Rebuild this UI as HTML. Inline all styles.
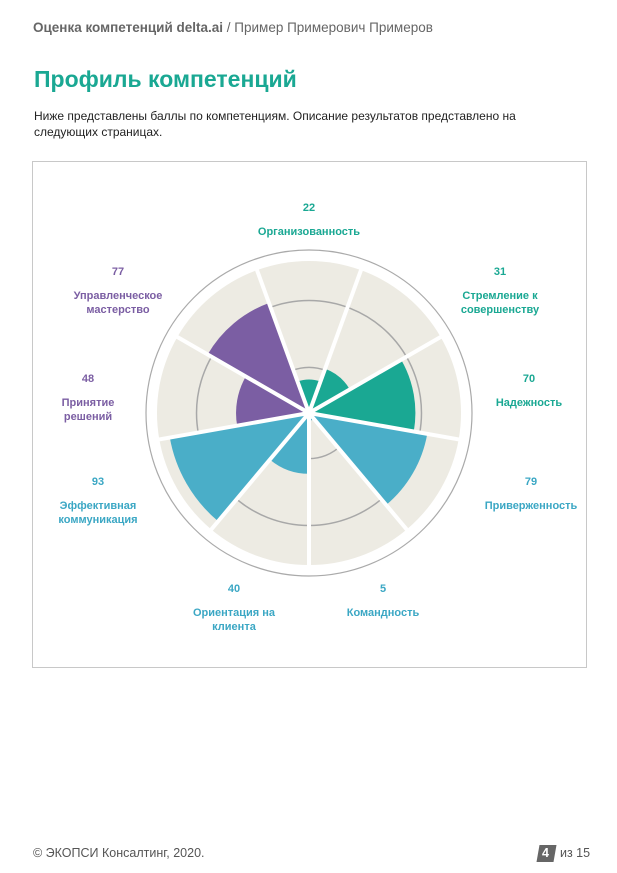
<!DOCTYPE html>
<html><head><meta charset="utf-8">
<style>
body{margin:0;width:617px;height:873px;background:#fff;position:relative;font-family:"Liberation Sans","Noto Sans CJK SC",sans-serif;overflow:hidden}
.a{position:absolute;white-space:nowrap}
</style></head><body>
<div class="a" style="left:33px;top:20px;font-size:13.5px;color:#666"><b>Оценка компетенций delta.ai</b> / Пример Примерович Примеров</div>
<div class="a" style="left:34px;top:66px;font-size:23px;font-weight:bold;color:#1aa893">Профиль компетенций</div>
<div class="a" style="left:34px;top:108px;font-size:12px;color:#222;line-height:16px">Ниже представлены баллы по компетенциям. Описание результатов представлено на<br>следующих страницах.</div>
<div class="a" style="left:32px;top:161px;width:553px;height:505px;border:1px solid #c8c8c8"></div>
<svg class="a" style="left:0;top:0" width="617" height="873" id="chart"></svg>
<div class="a" style="left:33px;top:846px;font-size:12.5px;color:#555">© ЭКОПСИ Консалтинг, 2020.</div>
<div class="a" style="left:538px;top:845px;width:17px;height:17px;background:#666;transform:skewX(-10deg)"></div>
<div class="a" style="left:542px;top:846px;font-size:12.5px;color:#fff;font-weight:bold">4</div>
<div class="a" style="left:560px;top:846px;font-size:12.5px;color:#555">из 15</div>
<script>
const labels=[["Организованность"],["Стремление к","совершенству"],["Надежность"],["Приверженность"],["Командность"],["Ориентация на","клиента"],["Эффективная","коммуникация"],["Принятие","решений"],["Управленческое","мастерство"]];
const values=[22,31,70,79,5,40,93,48,77];
const groups=["t","t","t","b","b","b","b","p","p"];
const ringValues=[30,74];
const colors={t:"#1aa893",b:"#4aaec8",p:"#7b5ea3"};
const labelColors={t:"#1aa893",b:"#3ba7c4",p:"#7b5ea3"};
const labelPos=[[309,207],[500,271],[529,378],[531,481],[383,588],[234,588],[98,481],[88,378],[118,271]];
const cx=309,cy=413,maxR=152;
const rScale=v=>v/100*maxR;
const svg=document.getElementById('chart');
const NS="http://www.w3.org/2000/svg";
function mk(t,a){const e=document.createElementNS(NS,t);for(const k in a)e.setAttribute(k,a[k]);svg.appendChild(e);return e;}
function wedge(i,r){const n=values.length,step=2*Math.PI/n;const a0=i*step-step/2-Math.PI/2,a1=a0+step;
return `M${cx},${cy}L${cx+r*Math.cos(a0)},${cy+r*Math.sin(a0)}A${r},${r} 0 0 1 ${cx+r*Math.cos(a1)},${cy+r*Math.sin(a1)}Z`;}
let c=mk('circle',{cx:cx,cy:cy,r:163,fill:'none',stroke:'#aaa','stroke-width':1.2});

values.forEach((v,i)=>{const p=mk('path',{d:wedge(i,maxR),fill:'#edebe3'});
});
ringValues.forEach(v=>{const g=mk('circle',{cx:cx,cy:cy,r:rScale(v),fill:'none',stroke:'#a8a8a8','stroke-width':1.5});
});
values.forEach((v,i)=>{const p=mk('path',{d:wedge(i,rScale(v)),fill:colors[groups[i]]});
});
values.forEach((v,i)=>{const step=2*Math.PI/values.length,a=i*step-step/2-Math.PI/2;
const l=mk('line',{x1:cx,y1:cy,x2:cx+(maxR+3)*Math.cos(a),y2:cy+(maxR+3)*Math.sin(a),stroke:'#fff','stroke-width':4});
});
values.forEach((v,i)=>{const [x,y]=labelPos[i];const col=labelColors[groups[i]];
const t=mk('text',{x:x,y:y+4,'text-anchor':'middle','font-size':11,'font-weight':'bold',fill:col,'font-family':'Liberation Sans, sans-serif'});t.textContent=v;

labels[i].forEach((s,j)=>{const tt=mk('text',{x:x,y:y+28+j*14,'text-anchor':'middle','font-size':11,'font-weight':'bold',fill:col,'font-family':'Liberation Sans, sans-serif'});tt.textContent=s;
});});
</script>
</body></html>
